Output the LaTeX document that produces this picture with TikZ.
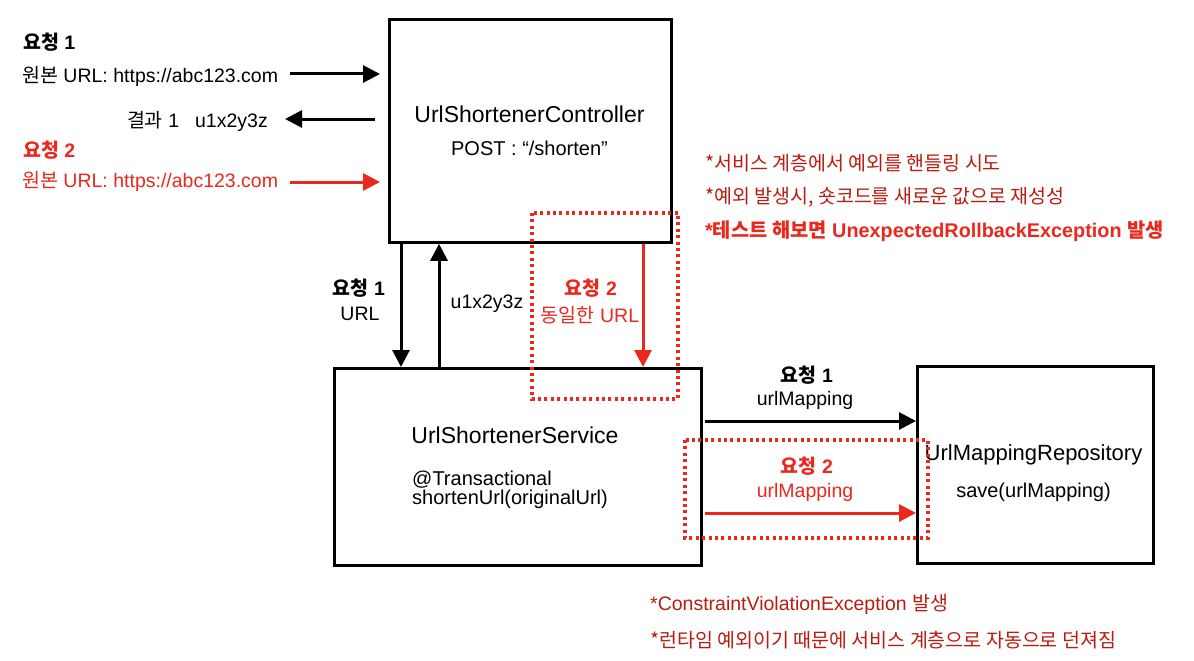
\documentclass[tikz,border=0pt]{standalone}
\usepackage{fontspec}
\setmainfont{Liberation Sans}
\newfontfamily\krf{Noto Sans CJK KR}
\usetikzlibrary{arrows.meta,calc}
\definecolor{bred}{RGB}{234,40,30}
\definecolor{dred}{RGB}{186,28,16}
\begin{document}
\begin{tikzpicture}[x=1pt,y=-1pt,
  box/.style={draw=black,line width=2.8pt,anchor=north west,inner sep=0pt},
  arr/.style={line width=3pt,-{Triangle[length=17pt,width=17pt]}},
  dotbox/.style={draw=bred,line width=3.2pt,dash pattern=on 3pt off 3.4pt},
  txt/.style={inner sep=0pt,font=\fontsize{19.5}{23}\selectfont},
  ttl/.style={inner sep=0pt,font=\fontsize{23}{27}\selectfont},
]
\fill[white] (0,0) rectangle (1194,661);
\useasboundingbox (0,0) rectangle (1194,661);

% boxes
\node[box,minimum width=282pt,minimum height=223pt] (ctrl) at (388,18) {};
\node[box,minimum width=367pt,minimum height=197pt] (svc) at (333,367) {};
\node[box,minimum width=236pt,minimum height=197pt] (repo) at (916,365) {};

% box texts
\node[ttl,anchor=base] (ctrlT) at (529.5,122) {UrlShortenerController};
\node[txt,anchor=base,font=\fontsize{20}{24}\selectfont] (ctrlP) at (529.5,155) {POST : “/shorten”};
\node[ttl,anchor=base] (svcT) at (515,443) {UrlShortenerService};
\node[txt,anchor=base west,font=\fontsize{20}{24}\selectfont] (svcA) at (412,485) {@Transactional};
\node[txt,anchor=base west,font=\fontsize{20}{24}\selectfont] (svcM) at (412,504) {shortenUrl(originalUrl)};
\node[ttl,anchor=base,font=\fontsize{22}{26}\selectfont] (repoT) at (1033.5,460) {UrlMappingRepository};
\node[txt,anchor=base,font=\fontsize{20}{24}\selectfont] (repoM) at (1033.5,497) {save(urlMapping)};

% left texts
\node[txt,anchor=base west,font=\fontsize{19.5}{23}\selectfont\bfseries] (r1) at (23,49) {{\krf 요청} 1};
\node[txt,anchor=base west] (u1) at (22,82) {{\krf 원본} URL: https://abc123.com};
\node[txt,anchor=base east] (res1) at (268,127) {{\krf 결과} 1\hspace{16pt}u1x2y3z};
\node[txt,anchor=base west,text=bred,font=\fontsize{19.5}{23}\selectfont\bfseries] (r2) at (23,157) {{\krf 요청} 2};
\node[txt,anchor=base west,text=bred] (u2) at (22,187) {{\krf 원본} URL: https://abc123.com};

% left arrows
\coordinate (l1) at (290,74);
\draw[arr,shorten >=8pt] (l1) -- (l1 -| ctrl.west);
\coordinate (l2) at (285,119);
\draw[arr,shorten <=13pt] (l2 -| ctrl.west) -- (l2);
\coordinate (l3) at (290,182);
\draw[arr,bred,shorten >=8pt] (l3) -- (l3 -| ctrl.west);

% vertical arrows
\coordinate (a1) at ([xshift=13pt]ctrl.south west);
\coordinate (a2) at ([xshift=51pt]ctrl.south west);
\coordinate (a3) at ([xshift=255pt]ctrl.south west);
\draw[arr] (a1) -- (a1 |- svc.north);
\draw[arr] (a2 |- svc.north) -- (a2);
\draw[arr,bred] (a3) -- (a3 |- svc.north);

\node[txt,anchor=base,font=\fontsize{19.5}{23}\selectfont\bfseries] (m1) at (359,295) {{\krf 요청} 1};
\node[txt,anchor=base] (m1u) at (360,320) {URL};
\node[txt,anchor=base] (m2) at (487,308) {u1x2y3z};
\node[txt,anchor=base,text=bred,font=\fontsize{19.5}{23}\selectfont\bfseries] (m3) at (591,295) {{\krf 요청} 2};
\node[txt,anchor=base,text=bred] (m3u) at (590,322) {{\krf 동일한} URL};

% horizontal arrows
\coordinate (h1) at ([yshift=-54pt]svc.north east);
\coordinate (h2) at ([yshift=-146pt]svc.north east);
\draw[arr,shorten <=2pt] (h1) -- (h1 -| repo.west);
\draw[arr,bred,shorten <=2pt] (h2) -- (h2 -| repo.west);

\node[txt,anchor=base,font=\fontsize{19.5}{23}\selectfont\bfseries] (k1) at (807,382) {{\krf 요청} 1};
\node[txt,anchor=base] (k1u) at (805,405) {urlMapping};
\node[txt,anchor=base,text=bred,font=\fontsize{19.5}{23}\selectfont\bfseries] (k2) at (807,473) {{\krf 요청} 2};
\node[txt,anchor=base,text=bred] (k2u) at (805,497) {urlMapping};

% dotted boxes
\draw[dotbox] (532,213) rectangle (678,399);
\draw[dotbox] (685,440) rectangle (928,538);

% annotations
\node[txt,anchor=base west,text=dred] (n1) at (705,170) {\krf *서비스 계층에서 예외를 핸들링 시도};
\node[txt,anchor=base west,text=dred] (n2) at (705,203) {\krf *예외 발생시, 숏코드를 새로운 값으로 재성성};
\node[txt,anchor=base west,text=bred,font=\fontsize{19.8}{23}\selectfont\bfseries] (n3) at (705,237) {*{\krf 테스트 해보면} UnexpectedRollbackException {\krf 발생}};
\node[txt,anchor=base west,text=dred] (b1) at (650,610) {*ConstraintViolationException {\krf 발생}};
\node[txt,anchor=base west,text=dred] (b2) at (650,647) {\krf *런타임 예외이기 때문에 서비스 계층으로 자동으로 던져짐};
\end{tikzpicture}
\end{document}
